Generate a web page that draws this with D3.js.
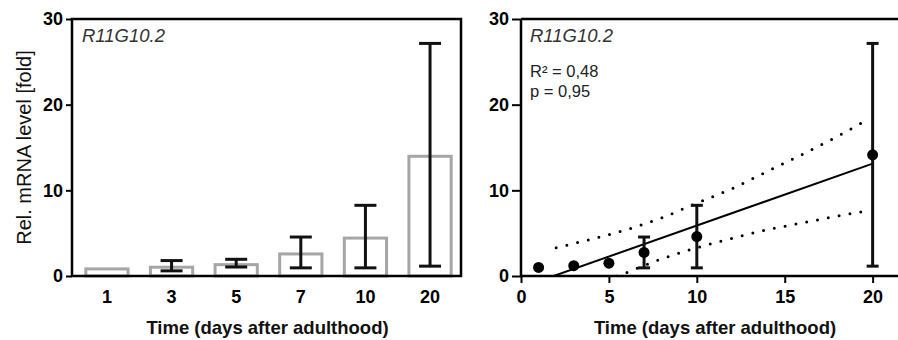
<!DOCTYPE html>
<html>
<head>
<meta charset="utf-8">
<script src="https://cdn.jsdelivr.net/npm/d3@7"></script>
<style>
  html, body { margin: 0; padding: 0; background: #fff; }
  svg { display: block; font-family: "Liberation Sans", Arial, sans-serif; }
</style>
</head>
<body>
<svg id="chart" width="898" height="340"></svg>
<script>
// ---- data ----
const categories = ["1", "3", "5", "7", "10", "20"];
const days = [1, 3, 5, 7, 10, 20];
const meanValues = [1.0, 1.2, 1.5, 2.75, 4.6, 14.15];
const sdValues = [0.0, 0.6, 0.45, 1.8, 3.65, 13.0];
const yTicks = [0, 10, 20, 30];
const xTicksRight = [0, 5, 10, 15, 20];
const bandX = [2, 4, 6, 8, 10, 12, 14, 16, 18, 19.4];
const bandUpper = [3.3, 4.3, 5.4, 6.8, 8.5, 10.2, 12.2, 14.2, 16.3, 17.9];
const bandLower = [-3.1, -1.2, 0.4, 2.0, 3.3, 4.4, 5.4, 6.2, 7.0, 7.5];
const geneLabel = "R11G10.2";
const statR2 = "0,48";
const statP = "0,95";
const yTitle = "Rel. mRNA level [fold]";
const xTitle = "Time (days after adulthood)";

// ---- setup ----
const svg = d3.select("#chart");
const yTop = 19, yBottom = 276;
const y = d3.scaleLinear().domain([0, 30]).range([yBottom, yTop]);
const tickFont = "bold 18px 'Liberation Sans', Arial, sans-serif";

function styleAxis(g) {
  g.select(".domain").remove();
  g.selectAll(".tick line").attr("stroke", "#000").attr("stroke-width", 2);
  g.selectAll(".tick text").style("font", tickFont).attr("fill", "#000");
}

// ================= LEFT PANEL (bars) =================
const L = { x0: 72, x1: 461 };
const xb = d3.scaleBand().domain(categories).range([74, 463]).paddingInner(0.3).paddingOuter(0.16);

const left = svg.append("g");

left.selectAll("rect.bar").data(meanValues).join("rect")
  .attr("class", "bar")
  .attr("x", (d, i) => xb(categories[i]) + 1.5)
  .attr("width", xb.bandwidth() - 3)
  .attr("y", d => y(d) + 1.5)
  .attr("height", d => Math.max(0, y(0) - y(d) - 1.5))
  .attr("fill", "#fff")
  .attr("stroke", "#a6a6a6")
  .attr("stroke-width", 3);

const ebL = left.append("g").attr("stroke", "#111").attr("stroke-width", 3).attr("fill", "none");
meanValues.forEach((m, i) => {
  const s = sdValues[i];
  if (s <= 0) return;
  const cx = xb(categories[i]) + xb.bandwidth() / 2;
  const hw = 11;
  ebL.append("line").attr("x1", cx).attr("x2", cx).attr("y1", y(m + s)).attr("y2", y(m - s));
  ebL.append("line").attr("x1", cx - hw).attr("x2", cx + hw).attr("y1", y(m + s)).attr("y2", y(m + s));
  ebL.append("line").attr("x1", cx - hw).attr("x2", cx + hw).attr("y1", y(m - s)).attr("y2", y(m - s));
});

left.append("path")
  .attr("d", `M${L.x0},${yTop}H${L.x1}V${yBottom}H${L.x0}Z`)
  .attr("fill", "none").attr("stroke", "#000").attr("stroke-width", 2.5);

left.append("g").attr("transform", `translate(${L.x0},0)`)
  .call(d3.axisLeft(y).tickValues(yTicks).tickSize(6).tickSizeOuter(0).tickPadding(3))
  .call(styleAxis);
left.append("g").attr("transform", `translate(0,${yBottom})`)
  .call(d3.axisBottom(xb).tickSize(0).tickPadding(14))
  .call(styleAxis);

left.append("text").attr("x", 82).attr("y", 42)
  .style("font", "italic 18.5px 'Liberation Sans', Arial, sans-serif").attr("fill", "#333")
  .text(geneLabel);

left.append("text")
  .attr("transform", `translate(31,147.5) rotate(-90)`)
  .attr("text-anchor", "middle")
  .style("font", "20px 'Liberation Sans', Arial, sans-serif").attr("fill", "#111")
  .text(yTitle);

left.append("text").attr("x", 267.5).attr("y", 334).attr("text-anchor", "middle")
  .style("font", "bold 18.5px 'Liberation Sans', Arial, sans-serif").attr("fill", "#111")
  .text(xTitle);

// ================= RIGHT PANEL (regression) =================
const R = { x0: 521 };
const x = d3.scaleLinear().domain([0, 21.5]).range([521, 899]);
const right = svg.append("g");

svg.append("defs").append("clipPath").attr("id", "clipR")
  .append("rect").attr("x", R.x0).attr("y", yTop).attr("width", 898 - R.x0).attr("height", yBottom - yTop);

// linear fit on the means
const n = days.length;
const mx = d3.mean(days), my = d3.mean(meanValues);
const sxy = d3.sum(days, (d, i) => (d - mx) * (meanValues[i] - my));
const sxx = d3.sum(days, d => (d - mx) * (d - mx));
const slope = sxy / sxx, intercept = my - slope * mx;

const plot = right.append("g").attr("clip-path", "url(#clipR)");
const line = d3.line().x(d => x(d[0])).y(d => y(d[1]));
plot.append("path")
  .attr("d", line([[days[0], slope * days[0] + intercept], [days[n - 1], slope * days[n - 1] + intercept]]))
  .attr("fill", "none").attr("stroke", "#000").attr("stroke-width", 2);

const curve = d3.line().x(d => x(d[0])).y(d => y(d[1])).curve(d3.curveMonotoneX);
[bandUpper, bandLower].forEach(arr => {
  plot.append("path")
    .attr("d", curve(bandX.map((bx, i) => [bx, arr[i]])))
    .attr("fill", "none").attr("stroke", "#000").attr("stroke-width", 3)
    .attr("stroke-linecap", "round").attr("stroke-dasharray", "0 11");
});

const r = 5.5;
const ebR = right.append("g").attr("stroke", "#111").attr("stroke-width", 3).attr("fill", "none");
meanValues.forEach((m, i) => {
  const s = sdValues[i];
  if (y(m) - y(m + s) <= r + 0.5) return;
  const cx = x(days[i]), hw = 6;
  ebR.append("line").attr("x1", cx).attr("x2", cx).attr("y1", y(m + s)).attr("y2", y(m - s));
  ebR.append("line").attr("x1", cx - hw).attr("x2", cx + hw).attr("y1", y(m + s)).attr("y2", y(m + s));
  ebR.append("line").attr("x1", cx - hw).attr("x2", cx + hw).attr("y1", y(m - s)).attr("y2", y(m - s));
});

right.selectAll("circle").data(meanValues).join("circle")
  .attr("cx", (d, i) => x(days[i])).attr("cy", d => y(d)).attr("r", r).attr("fill", "#000");

right.append("path")
  .attr("d", `M${R.x0},${yTop}H900M${R.x0},${yTop}V${yBottom}H900`)
  .attr("fill", "none").attr("stroke", "#000").attr("stroke-width", 2.5);

right.append("g").attr("transform", `translate(${R.x0},0)`)
  .call(d3.axisLeft(y).tickValues(yTicks).tickSize(9).tickSizeOuter(0).tickPadding(3))
  .call(styleAxis);
right.append("g").attr("transform", `translate(0,${yBottom})`)
  .call(d3.axisBottom(x).tickValues(xTicksRight).tickFormat(d3.format("d")).tickSize(7).tickPadding(7))
  .call(styleAxis);

right.append("text").attr("x", 530).attr("y", 42)
  .style("font", "italic 18.5px 'Liberation Sans', Arial, sans-serif").attr("fill", "#333")
  .text(geneLabel);

right.append("text").attr("x", 530).attr("y", 77)
  .style("font", "16.5px 'Liberation Sans', Arial, sans-serif").attr("fill", "#222")
  .text("R² = " + statR2);

right.append("text").attr("x", 530).attr("y", 97)
  .style("font", "16.5px 'Liberation Sans', Arial, sans-serif").attr("fill", "#222")
  .text("p = " + statP);

right.append("text").attr("x", 715).attr("y", 334).attr("text-anchor", "middle")
  .style("font", "bold 18.5px 'Liberation Sans', Arial, sans-serif").attr("fill", "#111")
  .text(xTitle);
</script>
</body>
</html>
